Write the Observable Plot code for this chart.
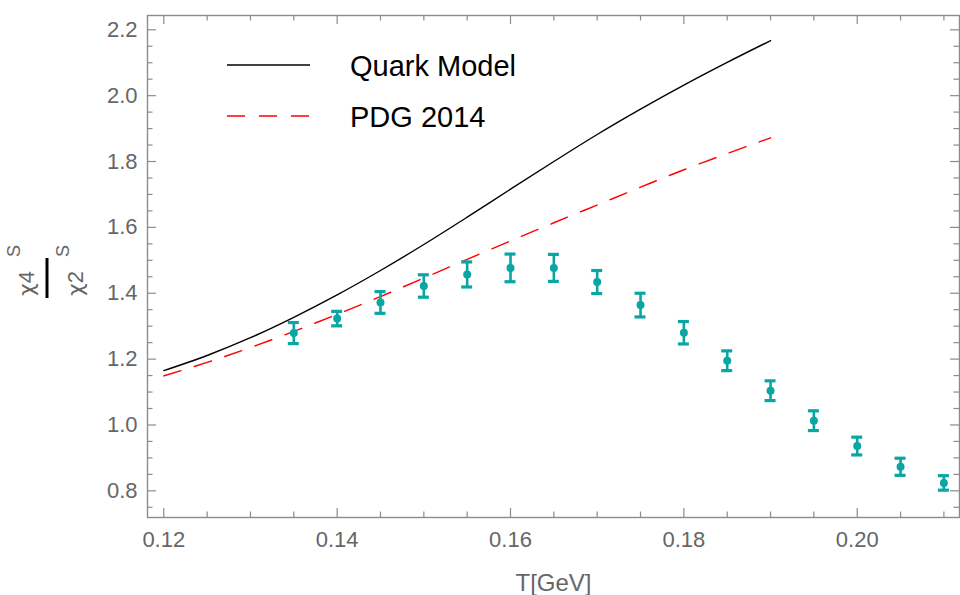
<!DOCTYPE html>
<html>
<head>
<meta charset="utf-8">
<script src="https://cdn.jsdelivr.net/npm/d3@7"></script>
<script src="https://cdn.jsdelivr.net/npm/@observablehq/plot@0.6"></script>
<style>
  html, body { margin: 0; padding: 0; background: #fff; }
  #chart svg { display: block; font-family: "Liberation Sans", Arial, sans-serif; }
</style>
</head>
<body>
<div id="chart"></div>
<script>
// ---- data ----
const lineT = [0.12, 0.125, 0.13, 0.135, 0.14, 0.145, 0.15, 0.155, 0.16, 0.165, 0.17, 0.175, 0.18, 0.185, 0.19];
const quarkModel = [1.165, 1.211, 1.265, 1.327, 1.395, 1.469, 1.548, 1.631, 1.716, 1.800, 1.882, 1.959, 2.032, 2.101, 2.167];
const pdg2014 = [1.149, 1.19, 1.235, 1.284, 1.336, 1.39, 1.446, 1.503, 1.559, 1.614, 1.668, 1.722, 1.775, 1.824, 1.872];

const latticeT = [0.135, 0.14, 0.145, 0.15, 0.155, 0.16, 0.165, 0.17, 0.175, 0.18, 0.185, 0.19, 0.195, 0.20, 0.205, 0.21];
const latticeVal = [1.279, 1.323, 1.372, 1.422, 1.457, 1.477, 1.477, 1.434, 1.364, 1.280, 1.195, 1.104, 1.013, 0.936, 0.873, 0.824];
const latticeErr = [0.032, 0.022, 0.033, 0.034, 0.038, 0.042, 0.041, 0.035, 0.036, 0.034, 0.030, 0.030, 0.030, 0.027, 0.026, 0.022];

const xMajor = [0.12, 0.14, 0.16, 0.18, 0.20];
const xTickLabels = ["0.12", "0.14", "0.16", "0.18", "0.20"];
const xMinor = [0.125, 0.13, 0.135, 0.145, 0.15, 0.155, 0.165, 0.17, 0.175, 0.185, 0.19, 0.195, 0.205, 0.21];
const yMajor = [0.8, 1.0, 1.2, 1.4, 1.6, 1.8, 2.0, 2.2];
const yTickLabels = ["0.8", "1.0", "1.2", "1.4", "1.6", "1.8", "2.0", "2.2"];
const yMinor = [0.75, 0.85, 0.9, 0.95, 1.05, 1.1, 1.15, 1.25, 1.3, 1.35, 1.45, 1.5, 1.55, 1.65, 1.7, 1.75, 1.85, 1.9, 1.95, 2.05, 2.1, 2.15];

const seriesNames = ["Quark Model", "PDG 2014"];
const xLabel = "T[GeV]";

// ---- tables built from arrays ----
const quarkRows = lineT.map((t, i) => ({T: t, v: quarkModel[i]}));
const pdgRows = lineT.map((t, i) => ({T: t, v: pdg2014[i]}));
const lattice = latticeT.map((t, i) => ({T: t, v: latticeVal[i], lo: latticeVal[i] - latticeErr[i], hi: latticeVal[i] + latticeErr[i]}));

// ---- layout ----
const W = 960, H = 595;
const mL = 147, mR = 1, mT = 15, mB = 78;
const plotW = W - mL - mR, plotH = H - mT - mB;
const frameColor = "#8c8c8c";
const textGray = "#666666";
const teal = "#0aa6a4";
const majorLen = 9, minorLen = 5.5;
const FONT = "'Liberation Sans', Arial, sans-serif";

const chart = Plot.plot({
  width: W,
  height: H,
  marginLeft: mL, marginRight: mR, marginTop: mT, marginBottom: mB,
  x: {domain: [0.11812, 0.2118]},
  y: {domain: [0.719, 2.2434]},
  style: {fontFamily: FONT, background: "#fff"},
  marks: [
    // ticks inward on all four sides
    Plot.ruleX(xMajor, {x: d => d, insetTop: plotH - majorLen, stroke: frameColor, strokeWidth: 1.2}),
    Plot.ruleX(xMinor, {x: d => d, insetTop: plotH - minorLen, stroke: frameColor, strokeWidth: 1.2}),
    Plot.ruleX(xMajor, {x: d => d, insetBottom: plotH - majorLen, stroke: frameColor, strokeWidth: 1.2}),
    Plot.ruleX(xMinor, {x: d => d, insetBottom: plotH - minorLen, stroke: frameColor, strokeWidth: 1.2}),
    Plot.ruleY(yMajor, {y: d => d, insetRight: plotW - majorLen, stroke: frameColor, strokeWidth: 1.2}),
    Plot.ruleY(yMinor, {y: d => d, insetRight: plotW - minorLen, stroke: frameColor, strokeWidth: 1.2}),
    Plot.ruleY(yMajor, {y: d => d, insetLeft: plotW - majorLen, stroke: frameColor, strokeWidth: 1.2}),
    Plot.ruleY(yMinor, {y: d => d, insetLeft: plotW - minorLen, stroke: frameColor, strokeWidth: 1.2}),
    Plot.frame({stroke: frameColor, strokeWidth: 1.4}),
    Plot.axisX({ticks: xMajor, tickSize: 0, tickPadding: 14, fontSize: 22, color: textGray, label: null,
      tickFormat: d => xTickLabels[xMajor.indexOf(d)]}),
    Plot.axisY({ticks: yMajor, tickSize: 0, tickPadding: 10, fontSize: 22, color: textGray, label: null,
      tickFormat: d => yTickLabels[yMajor.findIndex(v => Math.abs(v - d) < 1e-9)]}),
    Plot.text([xLabel], {frameAnchor: "bottom", dy: 66, lineAnchor: "middle", fontSize: 24, fill: textGray}),
    // model curves
    Plot.line(quarkRows, {x: "T", y: "v", stroke: "#000", strokeWidth: 1.4, curve: "monotone-x"}),
    Plot.line(pdgRows, {x: "T", y: "v", stroke: "#ff0000", strokeWidth: 1.4, strokeDasharray: "18,14", curve: "monotone-x"}),
    // lattice points with error bars
    Plot.ruleX(lattice, {x: "T", y1: "lo", y2: "hi", stroke: teal, strokeWidth: 2.6}),
    Plot.ruleY(lattice, {y: "lo", x1: "T", x2: "T", insetLeft: -5.5, insetRight: -5.5, stroke: teal, strokeWidth: 3.2}),
    Plot.ruleY(lattice, {y: "hi", x1: "T", x2: "T", insetLeft: -5.5, insetRight: -5.5, stroke: teal, strokeWidth: 3.2}),
    Plot.dot(lattice, {x: "T", y: "v", r: 4, fill: teal, stroke: "none"})
  ]
});

document.getElementById("chart").appendChild(chart);

// ---- legend (inside the frame, top-left) ----
const svg = d3.select(chart);
const leg = svg.append("g").attr("text-anchor", "start").attr("font-family", FONT);
const legItems = [
  {name: seriesNames[0], stroke: "#000", dash: null, y: 65},
  {name: seriesNames[1], stroke: "#ff0000", dash: "18,14", y: 116}
];
legItems.forEach(it => {
  leg.append("line").attr("x1", 227).attr("x2", 310).attr("y1", it.y).attr("y2", it.y)
    .attr("stroke", it.stroke).attr("stroke-width", 1.4).attr("stroke-dasharray", it.dash);
  leg.append("text").attr("x", 350).attr("y", it.y + 11).attr("font-size", 29)
    .attr("fill", "#000").text(it.name);
});

// ---- y axis label: fraction chi4^S / chi2^S, rotated ----
const yl = svg.append("g").attr("transform", "translate(47,278) rotate(-90)")
  .attr("font-family", FONT).attr("fill", textGray).attr("text-anchor", "start");
const num = yl.append("text").attr("x", -18).attr("y", -13).attr("font-size", 22);
num.append("tspan").attr("font-family", "'DejaVu Sans', sans-serif").text("\u03C7");
num.append("tspan").text("4");
yl.append("text").attr("x", 21).attr("y", -27).attr("font-size", 18).text("S");
yl.append("line").attr("x1", -20).attr("x2", 20).attr("y1", 0).attr("y2", 0)
  .attr("stroke", "#000").attr("stroke-width", 3);
const den = yl.append("text").attr("x", -18).attr("y", 36).attr("font-size", 22);
den.append("tspan").attr("font-family", "'DejaVu Sans', sans-serif").text("\u03C7");
den.append("tspan").text("2");
yl.append("text").attr("x", 21).attr("y", 22).attr("font-size", 18).text("S");
</script>
</body>
</html>
